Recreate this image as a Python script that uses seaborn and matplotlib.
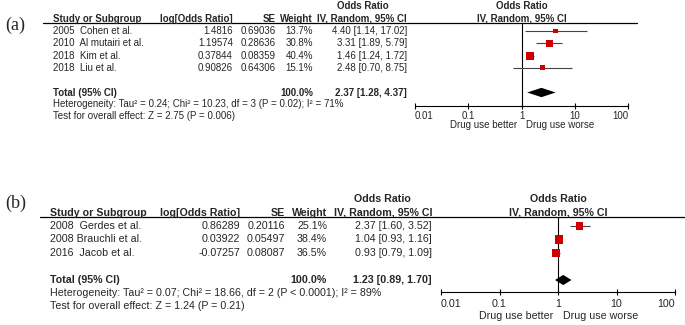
import matplotlib
matplotlib.use("Agg")
import matplotlib.pyplot as plt
import matplotlib.transforms as mtransforms
import pandas as pd
import seaborn as sns

# ---- data: panel (a)
a_study = ["2005  Cohen et al.", "2010  Al mutairi et al.", "2018  Kim et al.", "2018  Liu et al."]
a_log_or = [1.4816, 1.19574, 0.37844, 0.90826]
a_se = [0.69036, 0.28636, 0.08359, 0.64306]
a_weight = [13.7, 30.8, 40.4, 15.1]
a_or = [4.40, 3.31, 1.46, 2.48]
a_lo = [1.14, 1.89, 1.24, 0.70]
a_hi = [17.02, 5.79, 1.72, 8.75]
a_total = [2.37, 1.28, 4.37]
a_het = "Heterogeneity: Tau² = 0.24; Chi² = 10.23, df = 3 (P = 0.02); I² = 71%"
a_test = "Test for overall effect: Z = 2.75 (P = 0.006)"

# ---- data: panel (b)
b_study = ["2008  Gerdes et al.", "2008 Brauchli et al.", "2016  Jacob et al."]
b_log_or = [0.86289, 0.03922, -0.07257]
b_se = [0.20116, 0.05497, 0.08087]
b_weight = [25.1, 38.4, 36.5]
b_or = [2.37, 1.04, 0.93]
b_lo = [1.60, 0.93, 0.79]
b_hi = [3.52, 1.16, 1.09]
b_total = [1.23, 0.89, 1.70]
b_het = "Heterogeneity: Tau² = 0.07; Chi² = 18.66, df = 2 (P < 0.0001); I² = 89%"
b_test = "Test for overall effect: Z = 1.24 (P = 0.21)"

ticks = [0.01, 0.1, 1, 10, 100]
tick_labels = ["0.01", "0.1", "1", "10", "100"]

W, H = 685, 325

sns.set_theme(style="white")
plt.rcParams["font.family"] = ["Liberation Sans", "DejaVu Sans"]

fig = plt.figure(figsize=(W / 100, H / 100), dpi=100)


def draw_panel(label, study, log_or, se, weight, odds, lo, hi, total, het, test, lay):
    s = lay["scale"]
    fs = 7.0 * s
    n = len(study)
    row0, pitch = lay["row0"], lay["pitch"]
    top_idx = (lay["top"] - row0) / pitch
    bot_idx = (lay["axis"] - row0) / pitch
    ax = fig.add_axes([lay["x0"] / W, 1 - lay["axis"] / H,
                       (lay["x1"] - lay["x0"]) / W, (lay["axis"] - lay["top"]) / H])
    ax.set_xscale("log")
    ax.set_xlim(0.01, 100)
    ax.set_ylim(bot_idx, top_idx)
    ax.set_facecolor("none")

    df = pd.DataFrame({"study": study, "odds": odds, "lo": lo, "hi": hi,
                       "weight": weight, "row": range(n)})
    ax.hlines(df["row"], df["lo"], df["hi"], color="#444444", lw=0.8, zorder=2)
    sns.scatterplot(data=df, x="odds", y="row", size="weight", size_norm=(0, 100),
                    sizes=(0, 85 * s * s), marker="s", color="#cc0000",
                    linewidth=0, legend=False, ax=ax, zorder=3)
    t = n + 1
    h = 0.38
    ax.fill([total[1], total[0], total[2], total[0]], [t, t - h, t, t + h],
            color="black", lw=0, zorder=3)
    ax.axvline(1, color="black", lw=0.8, zorder=1)

    for side in ["top", "left", "right"]:
        ax.spines[side].set_visible(False)
    ax.spines["bottom"].set_color("black")
    ax.spines["bottom"].set_linewidth(0.8)
    ax.set_yticks([])
    ax.set_xticks(ticks)
    ax.set_xticklabels(tick_labels)
    ax.xaxis.set_minor_locator(matplotlib.ticker.NullLocator())
    ax.tick_params(axis="x", direction="inout", length=4.5, width=0.8, color="black",
                   labelsize=fs, pad=lay["tick_pad"], bottom=True)
    lbls = ax.get_xticklabels()
    lbls[0].set_ha("left")
    lbls[-1].set_ha("right")
    ax.set_xlabel("")
    ax.set_ylabel("")

    ax.annotate("Drug use better", xy=(1, 0), xycoords=("data", "axes fraction"),
                xytext=(-3.5, -lay["drug_gap"] * 0.72), textcoords="offset points",
                ha="right", va="center", fontsize=fs)
    ax.annotate("Drug use worse", xy=(1, 0), xycoords=("data", "axes fraction"),
                xytext=(3.5, -lay["drug_gap"] * 0.72), textcoords="offset points",
                ha="left", va="center", fontsize=fs)

    # right header
    ax.text(1, -2, "Odds Ratio", ha="center", va="center", fontsize=fs, fontweight="bold")
    ax.text(1, -1, "IV, Random, 95% CI", ha="center", va="center", fontsize=fs,
            fontweight="bold")

    tr = mtransforms.blended_transform_factory(fig.transFigure, ax.transData)
    c_lor, c_se, c_w, c_ci = lay["cols"]
    tx = lay["text_x"]

    def put(x, y, txt, ha="left", bold=False):
        ax.text(x / W, y, txt, transform=tr, ha=ha, va="center", fontsize=fs,
                fontweight="bold" if bold else "normal")

    put(tx, -1, "Study or Subgroup", bold=True)
    put(c_lor, -1, "log[Odds Ratio]", ha="right", bold=True)
    put(c_se, -1, "SE", ha="right", bold=True)
    put(c_w, -1, "Weight", ha="right", bold=True)
    put(c_ci, -1, "IV, Random, 95% CI", ha="right", bold=True)
    ax.text(lay["or_head"] / W, -2, "Odds Ratio", transform=tr, ha="center", va="center",
            fontsize=fs, fontweight="bold")

    for i in range(n):
        put(tx, i, study[i])
        put(c_lor, i, str(log_or[i]), ha="right")
        put(c_se, i, str(se[i]), ha="right")
        put(c_w, i, f"{weight[i]:.1f}%", ha="right")
        put(c_ci, i, f"{odds[i]:.2f} [{lo[i]:.2f}, {hi[i]:.2f}]", ha="right")

    put(tx, t, "Total (95% CI)", bold=True)
    put(c_w, t, f"{sum(weight):.1f}%", ha="right", bold=True)
    put(c_ci, t, f"{total[0]:.2f} [{total[1]:.2f}, {total[2]:.2f}]", ha="right", bold=True)
    put(tx, t + 0.97, het)
    put(tx, t + 1.9, test)

    ax.plot([lay["line"][0] / W, lay["line"][1] / W], [top_idx, top_idx], transform=tr,
            color="black", lw=0.9, clip_on=False)

    fig.text(lay["label"][0] / W, 1 - lay["label"][1] / H, label, ha="left", va="center",
             fontsize=13, family=["Liberation Serif", "DejaVu Serif"])


layout_a = dict(x0=415, x1=628, top=23, axis=106, row0=31, pitch=12.3, scale=1.0,
                line=(43, 637), text_x=53, cols=(233, 276, 313, 407), or_head=363,
                tick_pad=1.5, drug_gap=19, label=(5, 25))
layout_b = dict(x0=441, x1=675, top=217, axis=292, row0=226, pitch=13.5, scale=1.1,
                line=(40, 685), text_x=50, cols=(240, 285, 327, 432), or_head=382,
                tick_pad=3, drug_gap=24, label=(5, 203))

draw_panel("(a)", a_study, a_log_or, a_se, a_weight, a_or, a_lo, a_hi, a_total,
           a_het, a_test, layout_a)
draw_panel("(b)", b_study, b_log_or, b_se, b_weight, b_or, b_lo, b_hi, b_total,
           b_het, b_test, layout_b)

fig.savefig("out.png", dpi=100)
